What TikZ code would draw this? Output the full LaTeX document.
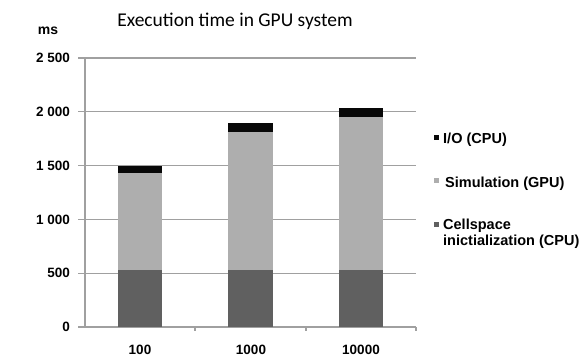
\documentclass[tikz,border=0pt]{standalone}
\usepackage{fontspec}
\setmainfont{Liberation Sans}
\newfontfamily\titlefont{Carlito}
\usetikzlibrary{positioning}
\definecolor{cellgray}{HTML}{606060}
\definecolor{simgray}{HTML}{AEAEAE}
\definecolor{ioblack}{HTML}{080808}
\definecolor{gridgray}{HTML}{A0A0A0}
\tikzset{
  gridline/.style={gridgray, line width=1.2pt},
  ticklab/.style={font=\bfseries\fontsize{13.5}{15}\selectfont, anchor=east, inner sep=0pt},
  catlab/.style={font=\bfseries\fontsize{13.5}{15}\selectfont, anchor=base, inner sep=0pt},
  legtext/.style={font=\bfseries\fontsize{14.5}{16}\selectfont, anchor=base west, align=left, inner sep=0pt},
  legkey/.style={minimum size=5pt, inner sep=0pt},
}

\begin{document}
\begin{tikzpicture}[x=1pt, y=1pt]
  \useasboundingbox (0,0) rectangle (584,357);
  \fill[white] (0,0) rectangle (584,357);
  \node[font=\titlefont\fontsize{19.5}{22}\selectfont, anchor=base] (title) at (235,330) {Execution time in GPU system};
  \node[font=\bfseries\fontsize{14}{15}\selectfont, anchor=base] (unit) at (48,322) {ms};
  \begin{scope}[shift={(0,30)}, y=0.1076pt]
    \draw[gridline] (78,500) -- (416,500);
    \draw[gridline] (78,1000) -- (416,1000);
    \draw[gridline] (78,1500) -- (416,1500);
    \draw[gridline] (78,2000) -- (416,2000);
    \draw[gridline] (78,2500) -- (416,2500);
    \draw[gridline] (85,0) -- (85,2500);
    \draw[gridline] (78,0) -- (416,0);
    \draw[gridline] (195,0) -- (195,-37);
    \draw[gridline] (306,0) -- (306,-37);
    \draw[gridline] (416,0) -- (416,-37);
    % bars
    \fill[cellgray] (118,0) rectangle (162,530);
    \fill[simgray] (118,530) rectangle (162,1430);
    \fill[ioblack] (118,1430) rectangle (162,1500);
    \fill[cellgray] (228,0) rectangle (273,530);
    \fill[simgray] (228,530) rectangle (273,1810);
    \fill[ioblack] (228,1810) rectangle (273,1893);
    \fill[cellgray] (339,0) rectangle (383,530);
    \fill[simgray] (339,530) rectangle (383,1954);
    \fill[ioblack] (339,1954) rectangle (383,2032);
    % axis labels
    \node[ticklab] (y0) at (70,0) {0};
    \node[ticklab] (y500) at (70,500) {500};
    \node[ticklab] (y1000) at (70,1000) {1~000};
    \node[ticklab] (y1500) at (70,1500) {1~500};
    \node[ticklab] (y2000) at (70,2000) {2~000};
    \node[ticklab] (y2500) at (70,2500) {2~500};
  \end{scope}
  \node[catlab] (x100) at (140,3) {100};
  \node[catlab] (x1000) at (251,3) {1000};
  \node[catlab] (x10000) at (361,3) {10000};
  % legend
  \node[legkey, fill=ioblack] (keyio) at (436.5,219.5) {};
  \node[legtext] (txtio) at (443,214) {I/O (CPU)};
  \node[legkey, fill=simgray] (keysim) at (436.5,176.5) {};
  \node[legtext] (txtsim) at (445,170) {Simulation (GPU)};
  \node[legkey, fill=cellgray] (keycell) at (436.5,132.5) {};
  \node[legtext] (txtcell) at (443,112) {Cellspace\\inictialization (CPU)};
\end{tikzpicture}
\end{document}
